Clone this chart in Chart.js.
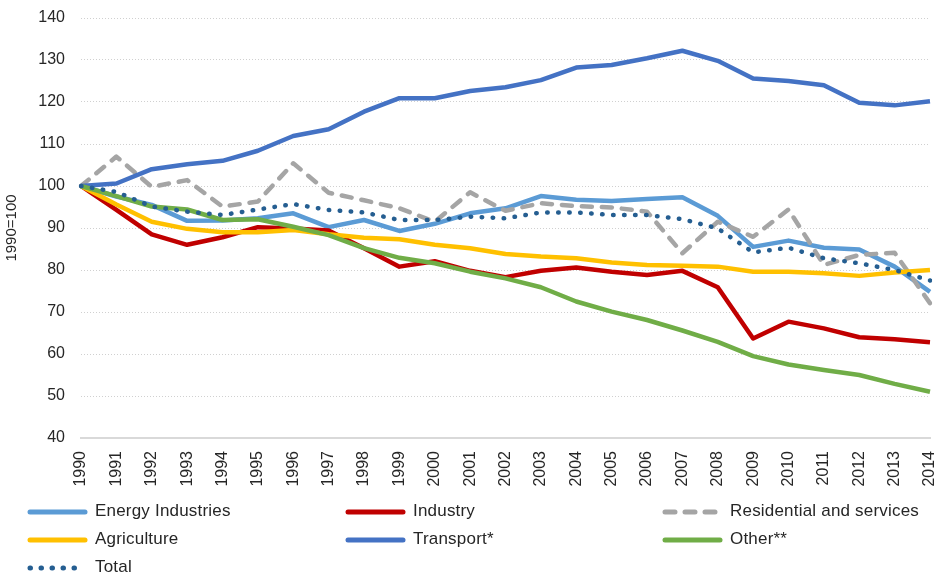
<!DOCTYPE html>
<html>
<head>
<meta charset="utf-8">
<script src="https://cdn.jsdelivr.net/npm/chart.js@4"></script>
<style>
  body { margin: 0; background: #fff; }
  #wrap { position: relative; width: 938px; height: 574px; }
  #legend { position: absolute; left: 0; top: 0; width: 938px; height: 574px; pointer-events: none;
            font-family: "Liberation Sans", Arial, sans-serif; font-size: 17px; letter-spacing: 0.2px; color: #262626; }
  .item { position: absolute; height: 24px; line-height: 24px; white-space: nowrap; }
  .item svg { vertical-align: middle; margin-right: 6px; }
</style>
</head>
<body>
<div id="wrap">
  <canvas id="chart" width="938" height="574"></canvas>
  <div id="legend"></div>
</div>
<script>
const years = ['1990','1991','1992','1993','1994','1995','1996','1997','1998','1999','2000','2001','2002',
  '2003','2004','2005','2006','2007','2008','2009','2010','2011','2012','2013','2014'];

const energy = [100, 97.5, 95.5, 91.7, 91.8, 92.3, 93.5, 90.2, 91.9, 89.3, 91.0, 93.5, 94.7, 97.6, 96.7, 96.4, 96.9, 97.3, 92.9, 85.5, 87.0, 85.3, 84.9, 80.8, 74.8];
const industry = [100, 94.3, 88.5, 86.0, 87.8, 90.2, 89.9, 89.4, 85.2, 80.8, 82.1, 79.8, 78.3, 79.8, 80.6, 79.6, 78.8, 79.8, 75.9, 63.7, 67.7, 66.1, 64.0, 63.5, 62.8];
const residential = [100, 107.0, 99.8, 101.4, 95.1, 96.3, 105.4, 98.4, 96.6, 94.7, 91.5, 98.5, 94.1, 95.9, 95.2, 94.9, 93.9, 84.0, 91.5, 87.9, 94.4, 81.2, 83.6, 84.1, 72.1];
const agriculture = [100, 95.6, 91.5, 89.8, 89.0, 89.0, 89.5, 88.5, 87.7, 87.3, 86.0, 85.2, 83.8, 83.2, 82.8, 81.8, 81.2, 81.0, 80.8, 79.6, 79.6, 79.2, 78.6, 79.4, 80.0];
const transport = [100, 100.6, 104.0, 105.2, 106.0, 108.4, 111.9, 113.5, 117.7, 120.9, 120.9, 122.6, 123.5, 125.2, 128.2, 128.8, 130.4, 132.2, 129.8, 125.6, 125.0, 124.0, 119.8, 119.2, 120.2];
const other = [100, 97.6, 95.1, 94.4, 91.9, 92.1, 90.3, 88.3, 85.2, 82.9, 81.6, 79.6, 78.0, 75.9, 72.5, 70.1, 68.1, 65.6, 62.9, 59.5, 57.5, 56.2, 55.0, 52.9, 51.0];
const total = [100, 98.6, 95.1, 93.9, 93.1, 94.4, 95.7, 94.3, 93.7, 91.9, 91.9, 92.7, 92.3, 93.7, 93.7, 93.1, 93.1, 92.1, 89.9, 84.2, 85.3, 82.8, 81.6, 80.0, 77.5];

const seriesNames = ['Energy Industries', 'Industry', 'Residential and services', 'Agriculture', 'Transport*', 'Other**', 'Total'];
const seriesData = [energy, industry, residential, agriculture, transport, other, total];
const colors = ['#5b9bd5', '#c00000', '#a5a5a5', '#ffc000', '#4472c4', '#70ad47', '#255e91'];
const dashes = [[], [], [10, 10], [], [], [], [0.5, 10.5]];

const datasets = seriesNames.map((name, i) => ({
  label: name,
  data: seriesData[i],
  borderColor: colors[i],
  backgroundColor: colors[i],
  borderWidth: 4.5,
  borderDash: dashes[i],
  borderCapStyle: dashes[i].length ? 'round' : 'butt',
  borderJoinStyle: 'round',
  pointRadius: 0,
  tension: 0,
  fill: false,
  order: seriesNames.length - i   // later series on top, like the original
}));

const tickFont = { family: '"Liberation Sans", Arial, sans-serif', size: 16 };

new Chart(document.getElementById('chart'), {
  type: 'line',
  data: { labels: years, datasets: datasets },
  options: {
    responsive: false,
    animation: false,
    layout: { padding: { left: 0, right: 8, top: 18, bottom: 86 } },
    plugins: { legend: { display: false }, tooltip: { enabled: false } },
    scales: {
      x: {
        offset: false,
        grid: { display: false, drawTicks: false, tickLength: 0 },
        border: { display: true, color: '#d9d9d9', width: 2 },
        ticks: { color: '#262626', font: tickFont, minRotation: 90, maxRotation: 90, padding: 13, autoSkip: false },
        afterFit: (s) => { s.height = 50; s.paddingLeft = 0; s.paddingRight = 0; }
      },
      y: {
        min: 40,
        max: 140,
        ticks: { stepSize: 10, color: '#262626', font: tickFont, padding: 16 },
        grid: { color: '#d0d0d0', lineWidth: 1, drawTicks: false },
        border: { display: false, dash: [1, 2] },
        title: {
          display: true,
          text: '1990=100',
          color: '#262626',
          font: { family: '"Liberation Sans", Arial, sans-serif', size: 15 },
          padding: { top: 3, bottom: 17 }
        },
        afterFit: (s) => { s.width = 81; s.paddingTop = 0; s.paddingBottom = 0; }
      }
    }
  }
});

// legend: three columns, three rows
const legend = document.getElementById('legend');
const colX = [27, 345, 662];
const rowY = [499, 527, 555];
seriesNames.forEach((name, i) => {
  const d = document.createElement('div');
  d.className = 'item';
  d.style.left = colX[i % 3] + 'px';
  d.style.top = rowY[Math.floor(i / 3)] + 'px';
  const dash = dashes[i].length ? ' stroke-dasharray="' + dashes[i].join(' ') + '"' : '';
  d.innerHTML = '<svg width="62" height="8"><line x1="3" y1="4" x2="58" y2="4" stroke="' + colors[i] +
    '" stroke-width="5" stroke-linecap="round"' + dash + '/></svg>' + name;
  legend.appendChild(d);
});
</script>
</body>
</html>
